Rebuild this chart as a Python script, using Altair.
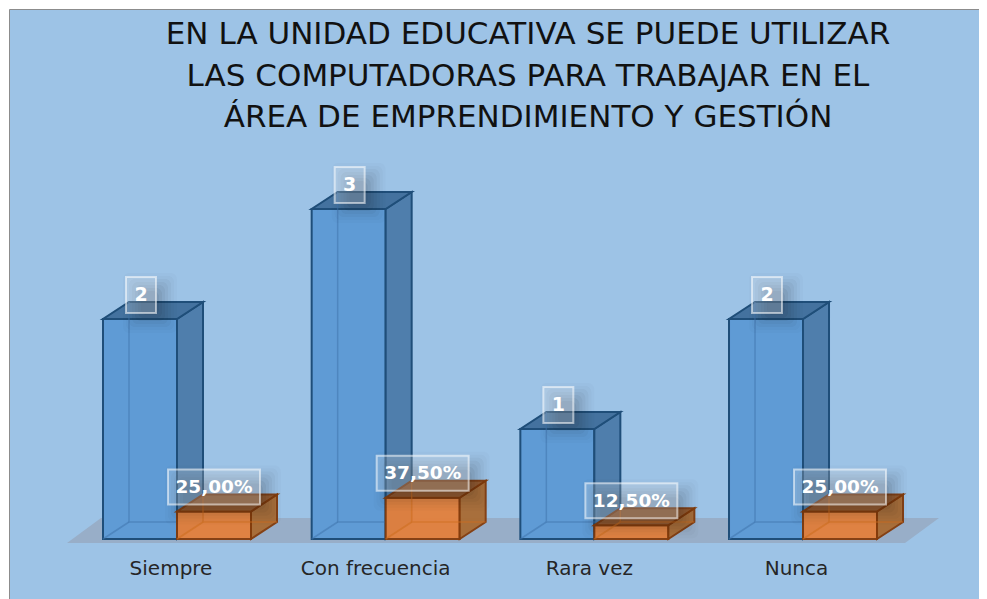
import altair as alt
import pandas as pd

categories = ["Siempre", "Con frecuencia", "Rara vez", "Nunca"]
counts = [2, 3, 1, 2]
shares = [0.25, 0.375, 0.125, 0.25]
count_labels = ["2", "3", "1", "2"]
share_labels = ["25,00%", "37,50%", "12,50%", "25,00%"]
title_lines = [
    "EN LA UNIDAD EDUCATIVA SE PUEDE UTILIZAR",
    "LAS COMPUTADORAS PARA TRABAJAR EN EL",
    "ÁREA DE EMPRENDIMIENTO Y GESTIÓN",
]

# px per unit of each scale
UX, UY = 208.67, 110.0
BW, DX, DY = 74 / UX, 26 / UX, 17 / UY
xs = alt.Scale(domain=[(9 - 103) / UX, (979 - 103) / UX], nice=False, zero=False)
ys = alt.Scale(domain=[(539 - 599) / UY, (539 - 9) / UY], nice=False, zero=False)
X = lambda f="x": alt.X(f"{f}:Q", scale=xs, axis=None)
Y = lambda f="y": alt.Y(f"{f}:Q", scale=ys, axis=None)


def faces(offset, values):
    fronts, sides, tops, lines = [], [], [], []
    for i, v in enumerate(values):
        x0 = i + offset
        x1 = x0 + BW
        fronts.append(dict(x=x0, x2=x1, y=0, y2=v))
        sides += [
            dict(id=i, x=x1, y=0, y2=v),
            dict(id=i, x=x1 + DX, y=DY, y2=v + DY),
        ]
        tops += [
            dict(id=i, x=x0, y=v, y2=v),
            dict(id=i, x=x0 + DX, y=v, y2=v + DY),
            dict(id=i, x=x1, y=v, y2=v + DY),
            dict(id=i, x=x1 + DX, y=v + DY, y2=v + DY),
        ]
        lines += [
            dict(id=f"{i}a", o=0, x=x0 + DX, y=v + DY),
            dict(id=f"{i}a", o=1, x=x0 + DX, y=DY),
            dict(id=f"{i}a", o=2, x=x1 + DX, y=DY),
            dict(id=f"{i}b", o=0, x=x0, y=0),
            dict(id=f"{i}b", o=1, x=x0 + DX, y=DY),
        ]
    return map(pd.DataFrame, (fronts, sides, tops, lines))


def box3d(offset, values, front, side, top, edge, back, opacity):
    f, s, t, l = faces(offset, values)
    sw = 2
    return [
        alt.Chart(f).mark_rect(fill=front, stroke=edge, strokeWidth=sw, opacity=opacity).encode(
            x=X(), x2="x2:Q", y=Y(), y2="y2:Q"),
        alt.Chart(s).mark_area(fill=side, stroke=edge, strokeWidth=sw, opacity=opacity).encode(
            x=X(), y=Y(), y2="y2:Q", detail="id:N"),
        alt.Chart(t).mark_area(fill=top, stroke=edge, strokeWidth=sw, opacity=opacity).encode(
            x=X(), y=Y(), y2="y2:Q", detail="id:N"),
        alt.Chart(l).mark_line(stroke=back, strokeWidth=1.5, opacity=0.55).encode(
            x=X(), y=Y(), detail="id:N", order="o:Q"),
    ]


def label_layers(offset, values, texts, cx, cy, w, h, size):
    rows = [
        dict(x=i + offset + cx / UX, y=v + cy / UY, t=t)
        for i, (v, t) in enumerate(zip(values, texts))
    ]
    df = pd.DataFrame(rows)
    df["x0"], df["x1"] = df.x - w / 2 / UX, df.x + w / 2 / UX
    df["y0"], df["y1"] = df.y - h / 2 / UY, df.y + h / 2 / UY
    out = []
    for grow, op in [(12, 0.015), (9, 0.025), (6, 0.035), (3, 0.04), (0, 0.045), (-3, 0.05), (-6, 0.05)]:
        sh = df.assign(
            x0=df.x0 + (9 - grow) / UX, x1=df.x1 + (9 + grow) / UX,
            y0=df.y0 - (8 + grow) / UY, y1=df.y1 - (8 - grow) / UY,
        )
        out.append(alt.Chart(sh).mark_rect(fill="#1a1a1a", opacity=op, cornerRadius=6).encode(
            x=X("x0"), x2="x1:Q", y=Y("y0"), y2="y1:Q"))
    out.append(alt.Chart(df).mark_rect(
        fill="#ffffff", fillOpacity=0.2, stroke="#ffffff", strokeOpacity=0.55, strokeWidth=2
    ).encode(x=X("x0"), x2="x1:Q", y=Y("y0"), y2="y1:Q"))
    out.append(alt.Chart(df).mark_text(
        font="DejaVu Sans", fontWeight="bold", fontSize=size, color="#ffffff", baseline="middle", align="center"
    ).encode(x=X(), y=Y(), text="t:N"))
    return out


floor = pd.DataFrame([
    dict(x=(67 - 103) / UX, y=(539 - 543) / UY, y2=(539 - 543) / UY),
    dict(x=(101 - 103) / UX, y=(539 - 518) / UY, y2=(539 - 543) / UY),
    dict(x=(905 - 103) / UX, y=(539 - 518) / UY, y2=(539 - 543) / UY),
    dict(x=(939 - 103) / UX, y=(539 - 518) / UY, y2=(539 - 518) / UY),
])
floor_layer = alt.Chart(floor).mark_area(fill="#98aec8").encode(x=X(), y=Y(), y2="y2:Q")

cat_df = pd.DataFrame({
    "x": [i + c / UX for i, c in enumerate([68, 64, 69, 67.5])],
    "y": [(539 - 569) / UY] * 4,
    "t": categories,
})
cat_layer = alt.Chart(cat_df).mark_text(
    font="DejaVu Sans", fontSize=20, color="#262626", baseline="middle", align="center"
).encode(x=X(), y=Y(), text="t:N")

layers = [floor_layer]
layers += box3d(0, counts, "#5f9bd5", "#4f7eac", "#44729f", "#1f4e79", "#3f75ad", 1.0)
layers += box3d(BW, shares, "#e3803c", "#a96b33", "#97592a", "#843c0c", "#d0701f", 0.95)
layers += label_layers(0, counts, count_labels, 38, 24, 30, 36, 19)
layers += label_layers(BW, shares, share_labels, 37, 24.5, 92, 35, 18.5)
layers.append(cat_layer)

chart = alt.layer(*layers).properties(
    width=970,
    height=590,
    background="#ffffff",
    padding={"left": 1, "top": 1, "right": 0, "bottom": 0},
    autosize=alt.AutoSizeParams(type="none"),
    title=alt.TitleParams(
        text=title_lines, font="DejaVu Sans", fontSize=31, fontWeight="normal", color="#111111",
        lineHeight=41.5, anchor="start", align="center", baseline="top", dx=519, dy=129,
    ),
).configure_view(fill="#9dc3e6", stroke="#8c8c8c", strokeWidth=1)

chart.save("out.html", embed_options={"renderer": "svg", "actions": False})
